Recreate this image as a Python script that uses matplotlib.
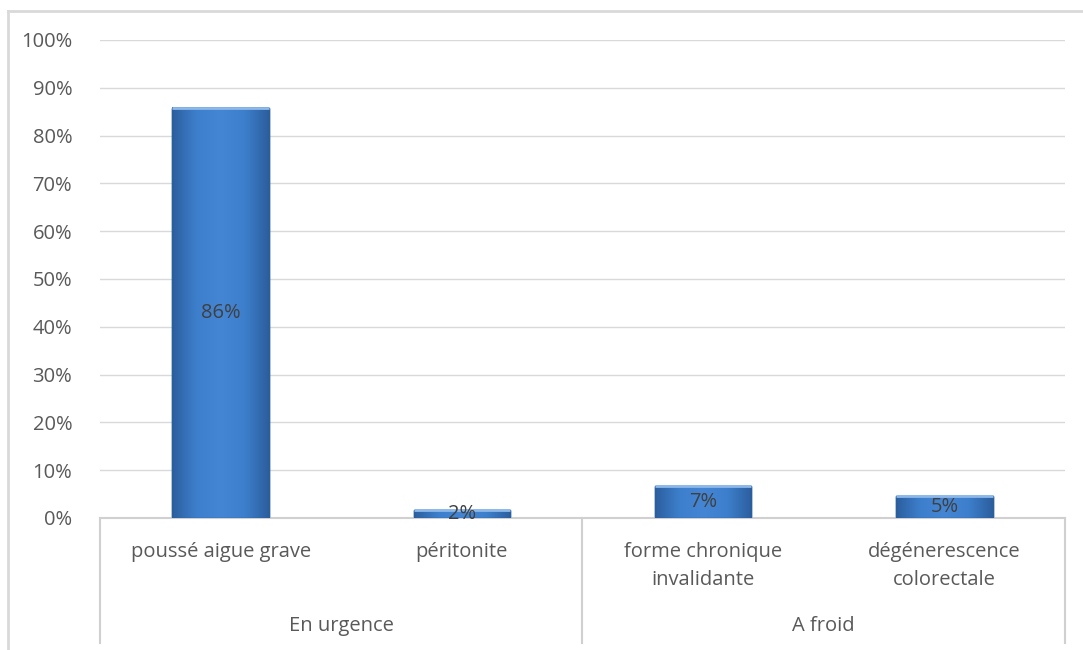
import numpy as np
import matplotlib.pyplot as plt
from matplotlib.lines import Line2D
from matplotlib.colors import LinearSegmentedColormap

plt.rcParams['font.family'] = ['Open Sans', 'DejaVu Sans']

categories = ['poussé aigue grave', 'péritonite', 'forme chronique\ninvalidante', 'dégénerescence\ncolorectale']
groups = ['En urgence', 'A froid']
group_sizes = [2, 2]
values = [85.8, 1.6, 6.6, 4.6]
yticks = list(range(0, 101, 10))

fs = 14.5

fig = plt.figure(figsize=(10.83, 6.5), dpi=100)
ax = fig.add_axes([0.0923, 0.2031, 0.8911, 0.7354])

x = np.arange(len(categories))
bars = ax.bar(x, values, width=0.4, color='#3C7DCA', edgecolor='#2B5E9C', linewidth=1, zorder=2)

# horizontal gradient to mimic the shaded excel bars
cmap = LinearSegmentedColormap.from_list('bl', ['#2C5E9E', '#3D7FCC', '#4486D3', '#3D7FCC', '#2C5E9E'])
grad = np.linspace(0, 1, 256).reshape(1, -1)
for b in bars:
    x0, w, h = b.get_x(), b.get_width(), b.get_height()
    ax.imshow(grad, cmap=cmap, extent=[x0, x0 + w, 0, h], aspect='auto', zorder=3)
    ax.add_patch(plt.Rectangle((x0, 0), w, h, fill=False, edgecolor='#2B5E9C', lw=1, zorder=4))
    # lighter top rim
    ax.plot([x0, x0 + w], [h, h], color='#8DB8EA', lw=2, zorder=4, solid_capstyle='butt')

for xi, v in zip(x, values):
    ax.text(xi, v / 2, '{:.0f}%'.format(v), ha='center', va='center', fontsize=fs, color='#404040', zorder=5)

ax.set_xlim(-0.5, len(categories) - 0.5)
ax.set_ylim(0, 100)
ax.set_yticks(yticks)
ax.set_yticklabels(['{}%'.format(t) for t in yticks], fontsize=fs, color='#595959')
ax.tick_params(axis='y', length=0, pad=20)
ax.set_xticks([])
ax.grid(axis='y', color='#D9D9D9', lw=1, zorder=0)
for s in ['top', 'right', 'left']:
    ax.spines[s].set_visible(False)
ax.spines['bottom'].set_color('#D0D0D0')
ax.spines['bottom'].set_linewidth(1.5)

trans = ax.get_xaxis_transform()
for xi, c in zip(x, categories):
    ax.text(xi, -0.050, c, transform=trans, ha='center', va='top', fontsize=fs,
            color='#595959', linespacing=1.55)

# group separators and labels
bounds = np.concatenate([[0], np.cumsum(group_sizes)]) - 0.5
for b in bounds:
    ax.plot([b, b], [0, -0.262], transform=trans, color='#D0D0D0', lw=1.5, clip_on=False)
for g, a, bb in zip(groups, bounds[:-1], bounds[1:]):
    ax.text((a + bb) / 2, -0.226, g, transform=trans, ha='center', va='center', fontsize=fs, color='#595959')

# outer chart border (cut off right/bottom)
fig.add_artist(Line2D([0.0074, 1.0], [0.983, 0.983], transform=fig.transFigure, color='#D9D9D9', lw=2))
fig.add_artist(Line2D([0.0074, 0.0074], [0.983, 0.0], transform=fig.transFigure, color='#D9D9D9', lw=2))

fig.savefig('out.png', dpi=100)
